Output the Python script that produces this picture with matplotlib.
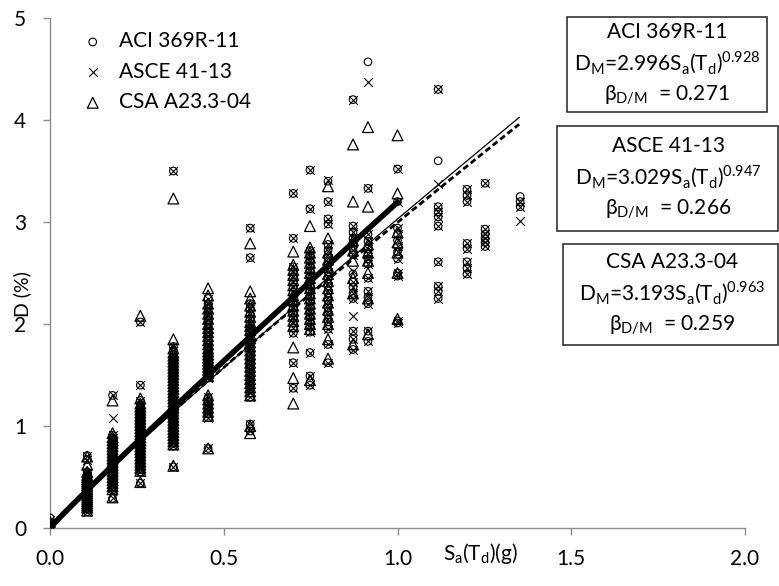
import numpy as np
import matplotlib
matplotlib.use("Agg")
import matplotlib.pyplot as plt
from matplotlib.patches import Rectangle

plt.rcParams['font.family'] = ['Lato', 'DejaVu Sans']
plt.rcParams['mathtext.fontset'] = 'custom'
plt.rcParams['mathtext.rm'] = 'Lato'

# Spectral acceleration levels (g) where the drifts were recorded
sa_levels = [0.0, 0.107, 0.18, 0.26, 0.355, 0.455, 0.576, 0.70, 0.748,
             0.80, 0.872, 0.915, 1.0, 1.117, 1.2, 1.252, 1.353]

# Drift D (%) at each level, one list per level
aci_d = [
    [0.01, 0.03, 0.05, 0.1],
    [0.16, 0.19, 0.21, 0.23, 0.25, 0.27, 0.29, 0.31, 0.33, 0.35, 0.37, 0.39, 0.41, 0.43,
     0.45, 0.47, 0.49, 0.51, 0.53, 0.55, 0.67, 0.71],
    [0.29, 0.37, 0.4, 0.43, 0.46, 0.49, 0.52, 0.55, 0.58, 0.61, 0.64, 0.67, 0.7, 0.73,
     0.76, 0.79, 0.82, 0.85, 0.88, 0.91, 1.3],
    [0.44, 0.55, 0.58, 0.61, 0.64, 0.67, 0.7, 0.73, 0.76, 0.79, 0.82, 0.85, 0.88, 0.91,
     0.94, 0.97, 1.0, 1.03, 1.06, 1.09, 1.12, 1.15, 1.18, 1.21, 1.25, 1.4, 2.02],
    [0.6, 0.8, 0.83, 0.86, 0.89, 0.92, 0.95, 0.98, 1.01, 1.04, 1.07, 1.1, 1.13, 1.16,
     1.19, 1.22, 1.25, 1.28, 1.31, 1.34, 1.37, 1.4, 1.43, 1.46, 1.49, 1.52, 1.55, 1.58,
     1.61, 1.64, 1.67, 1.7, 1.74, 1.78, 3.5],
    [0.78, 1.08, 1.12, 1.16, 1.2, 1.24, 1.28, 1.47, 1.5, 1.53, 1.56, 1.59, 1.62, 1.65,
     1.68, 1.71, 1.74, 1.77, 1.8, 1.84, 1.88, 1.92, 1.96, 2.0, 2.04, 2.08, 2.12, 2.16,
     2.2, 2.25],
    [0.95, 1.02, 1.28, 1.32, 1.36, 1.4, 1.44, 1.48, 1.52, 1.56, 1.6, 1.64, 1.68, 1.72,
     1.76, 1.8, 1.84, 1.88, 1.92, 1.96, 2.0, 2.05, 2.1, 2.15, 2.2, 2.65, 2.94],
    [1.37, 1.62, 1.91, 1.96, 2.01, 2.06, 2.11, 2.16, 2.21, 2.26, 2.31, 2.36, 2.41, 2.46,
     2.51, 2.56, 2.84, 3.28],
    [1.4, 1.49, 1.72, 1.92, 1.97, 2.02, 2.07, 2.12, 2.17, 2.22, 2.27, 2.32, 2.37, 2.42,
     2.47, 2.52, 2.57, 2.62, 2.67, 2.72, 3.13, 3.51],
    [1.62, 1.8, 1.95, 2.02, 2.09, 2.16, 2.23, 2.3, 2.37, 2.44, 2.51, 2.58, 2.65, 2.72,
     2.78, 2.98, 3.03, 3.2, 3.4],
    [1.75, 1.85, 1.93, 2.25, 2.3, 2.36, 2.41, 2.49, 2.68, 2.73, 2.79, 2.84, 2.9, 2.96, 4.2],
    [1.83, 1.93, 2.2, 2.26, 2.32, 2.45, 2.59, 2.64, 2.69, 2.74, 2.81, 2.88, 3.33, 4.57],
    [2.01, 2.03, 2.47, 2.5, 2.64, 2.71, 2.76, 2.82, 2.88, 2.94, 3.2, 3.52],
    [2.25, 2.32, 2.37, 2.61, 2.96, 3.05, 3.1, 3.15, 3.6, 4.3],
    [2.49, 2.55, 2.61, 2.74, 2.79, 3.2, 3.26, 3.32],
    [2.76, 2.8, 2.84, 2.88, 2.93, 3.38],
    [3.15, 3.2, 3.25],
]

asce_d = [
    [0.01, 0.03, 0.05, 0.08],
    [0.16, 0.19, 0.21, 0.23, 0.25, 0.27, 0.29, 0.31, 0.33, 0.35, 0.37, 0.39, 0.41, 0.43,
     0.45, 0.47, 0.49, 0.51, 0.53, 0.55, 0.67, 0.71],
    [0.29, 0.37, 0.4, 0.43, 0.46, 0.49, 0.52, 0.55, 0.58, 0.61, 0.64, 0.67, 0.7, 0.73,
     0.76, 0.79, 0.82, 0.85, 0.88, 0.91, 1.08, 1.3],
    [0.44, 0.55, 0.58, 0.61, 0.64, 0.67, 0.7, 0.73, 0.76, 0.79, 0.82, 0.85, 0.88, 0.91,
     0.94, 0.97, 1.0, 1.03, 1.06, 1.09, 1.12, 1.15, 1.18, 1.21, 1.25, 1.4, 2.02],
    [0.6, 0.8, 0.83, 0.86, 0.89, 0.92, 0.95, 0.98, 1.01, 1.04, 1.07, 1.1, 1.13, 1.16,
     1.19, 1.22, 1.25, 1.28, 1.31, 1.34, 1.37, 1.4, 1.43, 1.46, 1.49, 1.52, 1.55, 1.58,
     1.61, 1.64, 1.67, 1.7, 1.74, 1.78, 3.5],
    [0.78, 1.08, 1.12, 1.16, 1.2, 1.24, 1.28, 1.47, 1.5, 1.53, 1.56, 1.59, 1.62, 1.65,
     1.68, 1.71, 1.74, 1.77, 1.8, 1.84, 1.88, 1.92, 1.96, 2.0, 2.04, 2.08, 2.12, 2.16,
     2.2, 2.25],
    [0.95, 1.02, 1.28, 1.32, 1.36, 1.4, 1.44, 1.48, 1.52, 1.56, 1.6, 1.64, 1.68, 1.72,
     1.76, 1.8, 1.84, 1.88, 1.92, 1.96, 2.0, 2.05, 2.1, 2.15, 2.2, 2.65, 2.94],
    [1.37, 1.62, 1.91, 1.96, 2.01, 2.06, 2.11, 2.16, 2.21, 2.26, 2.31, 2.36, 2.41, 2.46,
     2.51, 2.56, 2.84, 3.28],
    [1.4, 1.49, 1.72, 1.92, 1.97, 2.02, 2.07, 2.12, 2.17, 2.22, 2.27, 2.32, 2.37, 2.42,
     2.47, 2.52, 2.57, 2.62, 2.67, 2.72, 3.13, 3.51],
    [1.62, 1.8, 1.95, 2.02, 2.09, 2.16, 2.23, 2.3, 2.37, 2.44, 2.51, 2.58, 2.65, 2.72,
     2.78, 2.98, 3.03, 3.2, 3.41],
    [1.75, 1.85, 1.93, 2.08, 2.25, 2.3, 2.36, 2.41, 2.52, 2.68, 2.73, 2.79, 2.84, 2.9,
     2.96, 4.2],
    [1.83, 1.93, 2.2, 2.26, 2.32, 2.45, 2.59, 2.64, 2.69, 2.74, 2.81, 2.88, 3.33, 4.37],
    [2.01, 2.03, 2.47, 2.5, 2.64, 2.71, 2.76, 2.82, 2.88, 2.94, 3.2, 3.52],
    [2.25, 2.32, 2.37, 2.61, 2.96, 3.05, 3.1, 3.15, 3.37, 4.3],
    [2.49, 2.55, 2.61, 2.74, 2.79, 3.2, 3.26, 3.32],
    [2.76, 2.8, 2.84, 2.88, 2.93, 3.38],
    [3.01, 3.15, 3.2],
]

csa_d = [
    [0.01, 0.03, 0.06],
    [0.17, 0.2, 0.22, 0.24, 0.26, 0.28, 0.3, 0.32, 0.34, 0.36, 0.38, 0.4, 0.42, 0.44,
     0.46, 0.48, 0.5, 0.52, 0.55, 0.62, 0.7],
    [0.3, 0.38, 0.41, 0.44, 0.47, 0.5, 0.53, 0.56, 0.59, 0.62, 0.65, 0.68, 0.71, 0.74,
     0.77, 0.8, 0.83, 0.86, 0.89, 0.93, 1.25],
    [0.45, 0.56, 0.59, 0.62, 0.65, 0.68, 0.71, 0.74, 0.77, 0.8, 0.83, 0.86, 0.89, 0.92,
     0.95, 0.98, 1.01, 1.04, 1.07, 1.1, 1.13, 1.16, 1.19, 1.22, 1.27, 2.08],
    [0.61, 0.82, 0.85, 0.88, 0.91, 0.94, 0.97, 1.0, 1.03, 1.06, 1.09, 1.12, 1.15, 1.18,
     1.21, 1.24, 1.27, 1.3, 1.33, 1.36, 1.39, 1.42, 1.45, 1.48, 1.51, 1.54, 1.57, 1.6,
     1.63, 1.66, 1.69, 1.72, 1.76, 1.85, 3.23],
    [0.78, 1.1, 1.14, 1.18, 1.22, 1.26, 1.3, 1.49, 1.52, 1.55, 1.58, 1.61, 1.64, 1.67,
     1.7, 1.73, 1.76, 1.8, 1.84, 1.88, 1.92, 1.96, 2.0, 2.05, 2.1, 2.15, 2.2, 2.28, 2.35],
    [0.93, 1.0, 1.3, 1.34, 1.38, 1.42, 1.46, 1.5, 1.54, 1.58, 1.62, 1.66, 1.7, 1.74,
     1.78, 1.82, 1.86, 1.9, 1.94, 1.98, 2.02, 2.07, 2.12, 2.18, 2.25, 2.32, 2.79],
    [1.22, 1.47, 1.77, 1.98, 2.03, 2.08, 2.13, 2.18, 2.23, 2.28, 2.33, 2.38, 2.43, 2.48,
     2.53, 2.58, 2.71],
    [1.45, 1.95, 2.0, 2.05, 2.1, 2.15, 2.2, 2.25, 2.3, 2.35, 2.4, 2.45, 2.5, 2.55, 2.6,
     2.65, 2.7, 2.75, 2.96],
    [1.66, 1.85, 2.0, 2.07, 2.14, 2.21, 2.28, 2.35, 2.42, 2.49, 2.56, 2.63, 2.7, 2.84,
     3.35],
    [1.8, 2.3, 2.45, 2.62, 2.72, 2.82, 3.2, 3.76],
    [1.9, 2.25, 2.5, 2.62, 2.7, 2.78, 3.15, 3.93],
    [2.05, 2.5, 2.7, 2.8, 2.9, 3.28, 3.85],
]

# Fitted power laws D_M = a * Sa^b and the range each one is drawn over
fit_names = ["ACI 369R-11", "ASCE 41-13", "CSA A23.3-04"]
fit_a = [2.996, 3.029, 3.193]
fit_b = [0.928, 0.947, 0.963]
fit_beta = [0.271, 0.266, 0.259]
fit_sa_max = [1.35, 1.35, 1.0]


def flatten(levels, values):
    xs, ys = [], []
    for sa, ds in zip(levels, values):
        xs.extend([sa] * len(ds))
        ys.extend(ds)
    return np.array(xs), np.array(ys)


W, H = 779, 586
fig = plt.figure(figsize=(W / 100, H / 100), dpi=100)
ax = fig.add_axes([50 / W, 1 - 528 / H, 695 / W, 510 / H])

x, y = flatten(sa_levels, aci_d)
ax.scatter(x, y, s=30, marker='o', facecolors='none', edgecolors='black',
           linewidths=0.8, label=fit_names[0], zorder=3)
x, y = flatten(sa_levels, asce_d)
ax.scatter(x, y, s=38, marker='x', color='black', linewidths=0.8,
           label=fit_names[1], zorder=3)
x, y = flatten(sa_levels, csa_d)
ax.scatter(x, y, s=60, marker='^', facecolors='none', edgecolors='black',
           linewidths=0.9, label=fit_names[2], zorder=3)

line_styles = [
    dict(color='black', lw=2.0, ls=(0, (2.2, 1.2))),
    dict(color='black', lw=0.9, ls='-'),
    dict(color='black', lw=4.0, ls='-'),
]
for a, b, xmax, st in zip(fit_a, fit_b, fit_sa_max, line_styles):
    sa = np.linspace(0, xmax, 200)
    ax.plot(sa, a * sa ** b, zorder=4, **st)

ax.set_xlim(0, 2.0)
ax.set_ylim(0, 5)
ax.set_xticks([0, 0.5, 1.0, 1.5, 2.0])
ax.set_xticklabels(["0.0", "0.5", "1.0", "1.5", "2.0"])
ax.set_yticks([0, 1, 2, 3, 4, 5])
for side in ['top', 'right']:
    ax.spines[side].set_visible(False)
for side in ['left', 'bottom']:
    ax.spines[side].set_color('#8c8c8c')
    ax.spines[side].set_linewidth(1.0)
ax.tick_params(colors='#8c8c8c', labelcolor='black', labelsize=15,
               length=5, width=1.0, direction='out')
ax.tick_params(axis='x', pad=10)
ax.tick_params(axis='y', pad=12)

fig.text(22 / W, 1 - 294 / H, "D (%)", fontsize=14, rotation=90,
         ha='center', va='center')
ax.text(1.24, -0.25, r"S$_\mathregular{a}$(T$_\mathregular{d}$)(g)", fontsize=15,
        ha='center', va='center', clip_on=False)

ax.legend(loc='upper left', bbox_to_anchor=(0.027, 0.99), frameon=False,
          fontsize=15, handlelength=1.5, handletextpad=0.5, labelspacing=0.5,
          borderaxespad=0, scatterpoints=1, markerscale=1.0)

# Fit summary boxes on the right: (left, top, right, bottom) in pixels
box_px = [(567, 17, 767, 112), (557, 126, 778, 231), (563, 244, 778, 345)]
text_cx = [667, 668, 672]
for name, a, b, beta, (x0, y0, x1, y1), cx in zip(fit_names, fit_a, fit_b,
                                                  fit_beta, box_px, text_cx):
    fig.patches.append(Rectangle((x0 / W, 1 - y1 / H), (x1 - x0) / W, (y1 - y0) / H,
                                 transform=fig.transFigure, facecolor='white',
                                 edgecolor='#333333', linewidth=1.2, zorder=5))
    txt = (f"{name}\n"
           rf"D$_\mathregular{{M}}$={a:.3f}S$_\mathregular{{a}}$(T$_\mathregular{{d}}$)$^\mathregular{{{b:.3f}}}$" "\n"
           rf"β$_\mathregular{{D/M}}$  = {beta:.3f}")
    fig.text(cx / W, 1 - (y0 + y1) / 2 / H, txt, fontsize=15, ha='center',
             va='center', linespacing=1.35, zorder=6)

fig.savefig("out.png", dpi=100)
